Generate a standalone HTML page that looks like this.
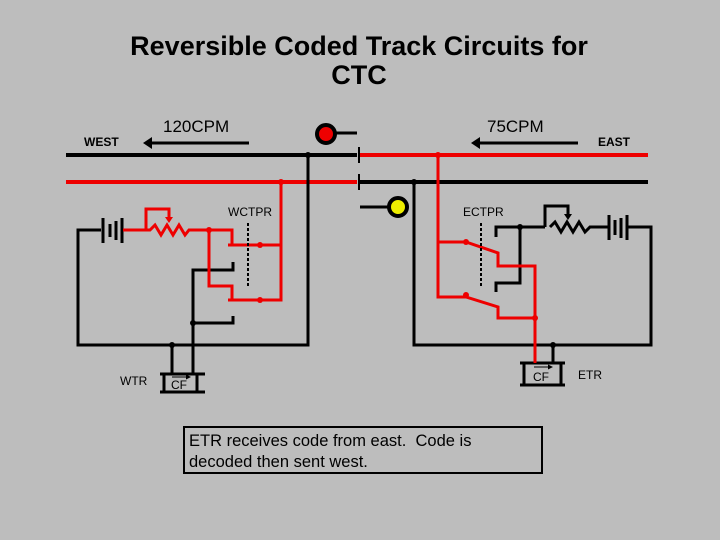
<!DOCTYPE html>
<html><head><meta charset="utf-8"><style>
body{margin:0;background:#bdbdbd;}
svg{display:block}
text{font-family:"Liberation Sans",sans-serif;}
</style></head><body>
<svg width="720" height="540" viewBox="0 0 720 540" xmlns="http://www.w3.org/2000/svg">
<rect width="720" height="540" fill="#bdbdbd"/>
<text x="359" y="55" font-size="27" font-weight="bold" text-anchor="middle">Reversible Coded Track Circuits for</text>
<text x="359" y="84" font-size="27" font-weight="bold" text-anchor="middle">CTC</text>
<text x="163" y="132" font-size="17">120CPM</text>
<text x="487" y="132" font-size="17">75CPM</text>
<text x="84" y="146" font-size="12" font-weight="bold">WEST</text>
<text x="598" y="146" font-size="12" font-weight="bold">EAST</text>
<g stroke="#000" stroke-width="3" fill="none">
<line x1="150" y1="143" x2="249" y2="143"/>
<line x1="478" y1="143" x2="578" y2="143"/>
</g>
<polygon points="143,143 152,137 152,149" fill="#000"/>
<polygon points="471,143 480,137 480,149" fill="#000"/>
<line x1="66" y1="155" x2="357" y2="155" stroke="#000" stroke-width="4"/>
<line x1="360" y1="155" x2="648" y2="155" stroke="#e00" stroke-width="4"/>
<line x1="66" y1="182" x2="357" y2="182" stroke="#e00" stroke-width="4"/>
<line x1="360" y1="182" x2="648" y2="182" stroke="#000" stroke-width="4"/>
<line x1="359" y1="147" x2="359" y2="163" stroke="#000" stroke-width="2"/>
<line x1="359" y1="174" x2="359" y2="190" stroke="#000" stroke-width="2"/>
<line x1="330" y1="133" x2="357" y2="133" stroke="#000" stroke-width="3"/>
<circle cx="326" cy="134" r="9" fill="#e00" stroke="#000" stroke-width="4"/>
<line x1="360" y1="207" x2="390" y2="207" stroke="#000" stroke-width="3"/>
<circle cx="398" cy="207" r="9" fill="#ee0" stroke="#000" stroke-width="4"/>
<text x="228" y="216" font-size="12">WCTPR</text>
<text x="463" y="216" font-size="12">ECTPR</text>
<g stroke="#000" stroke-width="3" fill="none">
<polyline points="101,230 78,230 78,345 308,345 308,155"/>
<line x1="172" y1="345" x2="172" y2="375"/>
<polyline points="233,262 233,270 193,270 193,375"/>
<polyline points="193,323 233,323 233,316"/>
<line x1="103" y1="218" x2="103" y2="243"/>
<line x1="110" y1="224" x2="110" y2="237"/>
<line x1="116" y1="221" x2="116" y2="240"/>
<line x1="122" y1="218" x2="122" y2="243"/>
<line x1="160" y1="374" x2="205" y2="374"/>
<line x1="160" y1="392" x2="205" y2="392"/>
<line x1="164" y1="374" x2="164" y2="392"/>
<line x1="197" y1="374" x2="197" y2="392"/>
<polyline points="414,182 414,345 651,345 651,227 628,227"/>
<line x1="553" y1="345" x2="553" y2="363"/>
<polyline points="496,237 496,227 545,227"/>
<polyline points="520,227 520,283 496,283 496,292"/>
<polyline points="545,227 545,206 568,206 568,215"/>
<polyline points="550,227 555,222 561,232 567,222 573,232 579,222 585,232 590,227 608,227"/>
<line x1="609" y1="215" x2="609" y2="240"/>
<line x1="615" y1="220" x2="615" y2="235"/>
<line x1="621" y1="218" x2="621" y2="238"/>
<line x1="627" y1="215" x2="627" y2="240"/>
<line x1="520" y1="363" x2="565" y2="363"/>
<line x1="520" y1="385" x2="565" y2="385"/>
<line x1="524" y1="363" x2="524" y2="385"/>
<line x1="561" y1="363" x2="561" y2="385"/>
</g>
<polygon points="564,214 572,214 568,220" fill="#000"/>
<g stroke="#e00" stroke-width="3" fill="none">
<polyline points="123,230 146,230 146,209 169,209 169,218"/>
<polyline points="146,230 150,230 155,225 161,235 167,225 173,235 179,225 185,235 189,230 232,230 232,245"/>
<polyline points="228,245 281,245"/>
<polyline points="281,182 281,300 228,300"/>
<polyline points="209,230 209,286 232,286 232,300"/>
<polyline points="438,155 438,297 466,297 498,307 498,318 535,318"/>
<polyline points="438,242 466,242 498,253 498,266 535,266 535,363"/>
</g>
<polygon points="165,217 173,217 169,223" fill="#e00"/>
<line x1="248" y1="223" x2="248" y2="288" stroke="#000" stroke-width="2" stroke-dasharray="3,2"/>
<line x1="481" y1="223" x2="481" y2="288" stroke="#000" stroke-width="2" stroke-dasharray="3,2"/>
<g fill="#000"><circle cx="308" cy="155" r="3"/><circle cx="414" cy="182" r="3"/><circle cx="172" cy="345" r="3"/><circle cx="193" cy="323" r="3"/><circle cx="520" cy="227" r="3"/><circle cx="553" cy="345" r="3"/></g>
<g fill="#e00"><circle cx="281" cy="182" r="3"/><circle cx="438" cy="155" r="3"/><circle cx="209" cy="230" r="3"/><circle cx="260" cy="245" r="3"/><circle cx="260" cy="300" r="3"/><circle cx="466" cy="242" r="3"/><circle cx="466" cy="295" r="3"/><circle cx="535" cy="318" r="3"/></g>
<text x="171" y="389" font-size="12">CF</text>
<line x1="172" y1="377" x2="190" y2="377" stroke="#000" stroke-width="1"/>
<polygon points="191,377 186,374.5 186,379.5" fill="#000"/>
<text x="533" y="381" font-size="12">CF</text>
<line x1="534" y1="367" x2="552" y2="367" stroke="#000" stroke-width="1"/>
<polygon points="553,367 548,364.5 548,369.5" fill="#000"/>
<text x="120" y="385" font-size="12">WTR</text>
<text x="578" y="379" font-size="12">ETR</text>
<rect x="184" y="427" width="358" height="46" fill="none" stroke="#000" stroke-width="2"/>
<text x="189" y="446" font-size="16.5" xml:space="preserve">ETR receives code from east.  Code is</text>
<text x="189" y="467" font-size="16.5">decoded then sent west.</text>
</svg>
</body></html>
